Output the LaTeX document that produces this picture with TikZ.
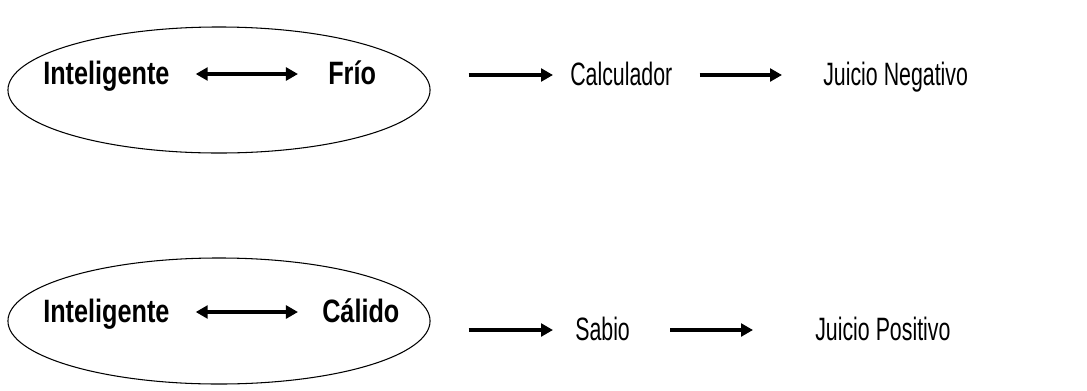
\documentclass[tikz,border=0pt]{standalone}
\usepackage{fontspec}
\setmainfont{Liberation Sans}
\newfontfamily\boldtxt{Liberation Sans}[FakeStretch=0.78]
\newfontfamily\plaintxt{Liberation Sans}[FakeStretch=0.66]
\usetikzlibrary{arrows.meta,shapes.geometric}
\begin{document}
\begin{tikzpicture}[x=0.025cm,y=-0.025cm,
		oval/.style={draw,black,line width=0.75pt,ellipse,minimum width=10.55cm,minimum height=3.15cm},
		word/.style={anchor=west,inner sep=0pt,text height=0.5cm,text depth=0pt},
		strongword/.style={word,font=\boldtxt\bfseries\fontsize{23}{27}\selectfont},
		plainword/.style={word,font=\plaintxt\fontsize{23}{27}\selectfont},
		arr/.style={line width=2.4pt,-{Triangle[length=0.3cm,width=0.32cm]}},
		dblarr/.style={line width=2.4pt,{Triangle[length=0.3cm,width=0.32cm]}-{Triangle[length=0.3cm,width=0.32cm]}}]
	\useasboundingbox (0,0) rectangle (1087,390);
	
	\node[oval] (ovalA) at (219,90) {};
	\node[strongword] (intA) at (43,74) {Inteligente};
	\node[strongword] (frio) at (328,74) {Frío};
	\node[plainword] (calc) at (570,75) {Calculador};
	\node[plainword] (neg) at (823,75) {Juicio Negativo};
	\draw[dblarr] ([shift={(26,0)}]intA.east) -- ([shift={(-30,0)}]frio.west);
	\draw[arr] ([shift={(38,0)}]ovalA.east |- calc.west) -- ([shift={(-17,0)}]calc.west);
	\draw[arr] ([shift={(27,0)}]calc.east) -- ([shift={(-41,0)}]neg.west);
	
	\node[oval] (ovalB) at (219,321) {};
	\node[strongword] (intB) at (43,312) {Inteligente};
	\node[strongword] (calido) at (322,312) {Cálido};
	\node[plainword] (sabio) at (575,330) {Sabio};
	\node[plainword] (pos) at (815,330) {Juicio Positivo};
	\draw[dblarr] ([shift={(26,0)}]intB.east) -- ([shift={(-24,0)}]calido.west);
	\draw[arr] ([shift={(38,0)}]ovalB.east |- sabio.west) -- ([shift={(-22,0)}]sabio.west);
	\draw[arr] ([shift={(40,0)}]sabio.east) -- ([shift={(-62,0)}]pos.west);
\end{tikzpicture}
\end{document}
